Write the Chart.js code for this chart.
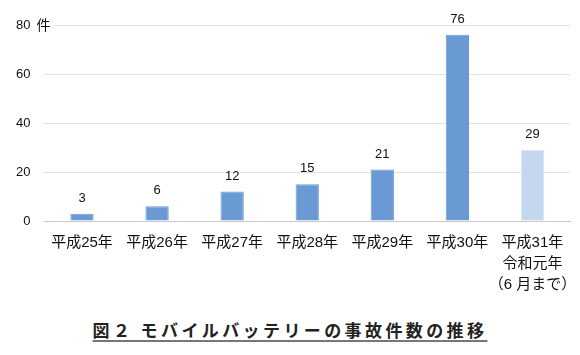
<!DOCTYPE html>
<html><head><meta charset="utf-8">
<script src="https://cdn.jsdelivr.net/npm/chart.js@4"></script>
<style>
html,body{margin:0;padding:0;background:#fff;width:580px;height:355px;overflow:hidden}
#wrap{position:absolute;left:0;top:0;width:580px;height:312px}
#title{position:absolute;left:0;top:317px;width:580px;text-align:center;font-family:"Noto Sans CJK JP",sans-serif;font-weight:bold;font-size:17px;letter-spacing:3.4px;color:#222}
#title span{text-decoration:underline;text-decoration-color:#777;text-underline-offset:3px;text-decoration-thickness:2px}
</style></head><body>
<div id="wrap"><canvas id="c" width="580" height="312"></canvas></div>
<div id="title"><span>図２ モバイルバッテリーの事故件数の推移</span></div>
<script>
const categories = [["平成25年"],["平成26年"],["平成27年"],["平成28年"],["平成29年"],["平成30年"],["平成31年","令和元年","（6 月まで）"]];
const accidents = [3, 6, 12, 15, 21, 76, 29];
const yTicks = [0, 20, 40, 60, 80];
const unitLabel = "件";

const FONT = '"Liberation Sans", "Noto Sans CJK JP", sans-serif';
const barColors = accidents.map((v,i)=> i===accidents.length-1 ? '#c3d7ee' : '#6a9ad3');
const borderColors = accidents.map((v,i)=> i===accidents.length-1 ? '#dde6f0' : '#6a9ad3');

const labelPlugin = {
  id:'labels',
  afterDatasetsDraw(chart){
    const ctx = chart.ctx;
    const meta = chart.getDatasetMeta(0);
    ctx.save();
    ctx.font = '13px ' + FONT;
    ctx.fillStyle = '#111';
    ctx.textAlign = 'center';
    ctx.textBaseline = 'bottom';
    meta.data.forEach((bar,i)=>{
      ctx.fillText(String(accidents[i]), bar.x, bar.y - 9);
    });
    const ys = chart.scales.y;
    const yTop = ys.getPixelForValue(yTicks[yTicks.length-1]);
    ctx.font = '14px "Noto Sans CJK JP", sans-serif';
    ctx.textAlign = 'left';
    ctx.textBaseline = 'middle';
    const x0 = ys.right - 6;
    ctx.fillStyle = '#fff';
    ctx.fillRect(x0-2, yTop-8, 18, 16);
    ctx.fillStyle = '#111';
    ctx.fillText(unitLabel, x0-2, yTop);
    ctx.restore();
  }
};

new Chart(document.getElementById('c'), {
  type:'bar',
  data:{labels:categories, datasets:[{data:accidents, backgroundColor:barColors, borderColor:borderColors, borderWidth:1, barPercentage:0.31, categoryPercentage:1}]},
  options:{
    responsive:false, animation:false,
    layout:{padding:{left:2, right:10, top:25, bottom:6}},
    plugins:{legend:{display:false}, tooltip:{enabled:false}, title:{display:false}},
    scales:{
      x:{
        afterFit(s){ s.paddingRight = 0; s.paddingLeft = 0; },
        grid:{display:false, drawTicks:false},
        border:{display:true, color:'#c8c8c8', width:1},
        ticks:{padding:11, color:'#111', font:{family:FONT, size:15, lineHeight:1.4}, maxRotation:0, autoSkip:false}
      },
      y:{
        min:0, max:80,
        afterBuildTicks(s){ s.ticks = yTicks.map(v=>({value:v})); },
        grid:{color:'#e3e3e3', drawTicks:false},
        border:{display:false},
        ticks:{padding:14, color:'#111', font:{family:FONT, size:13}}
      }
    }
  },
  plugins:[labelPlugin]
});
</script>
</body></html>
